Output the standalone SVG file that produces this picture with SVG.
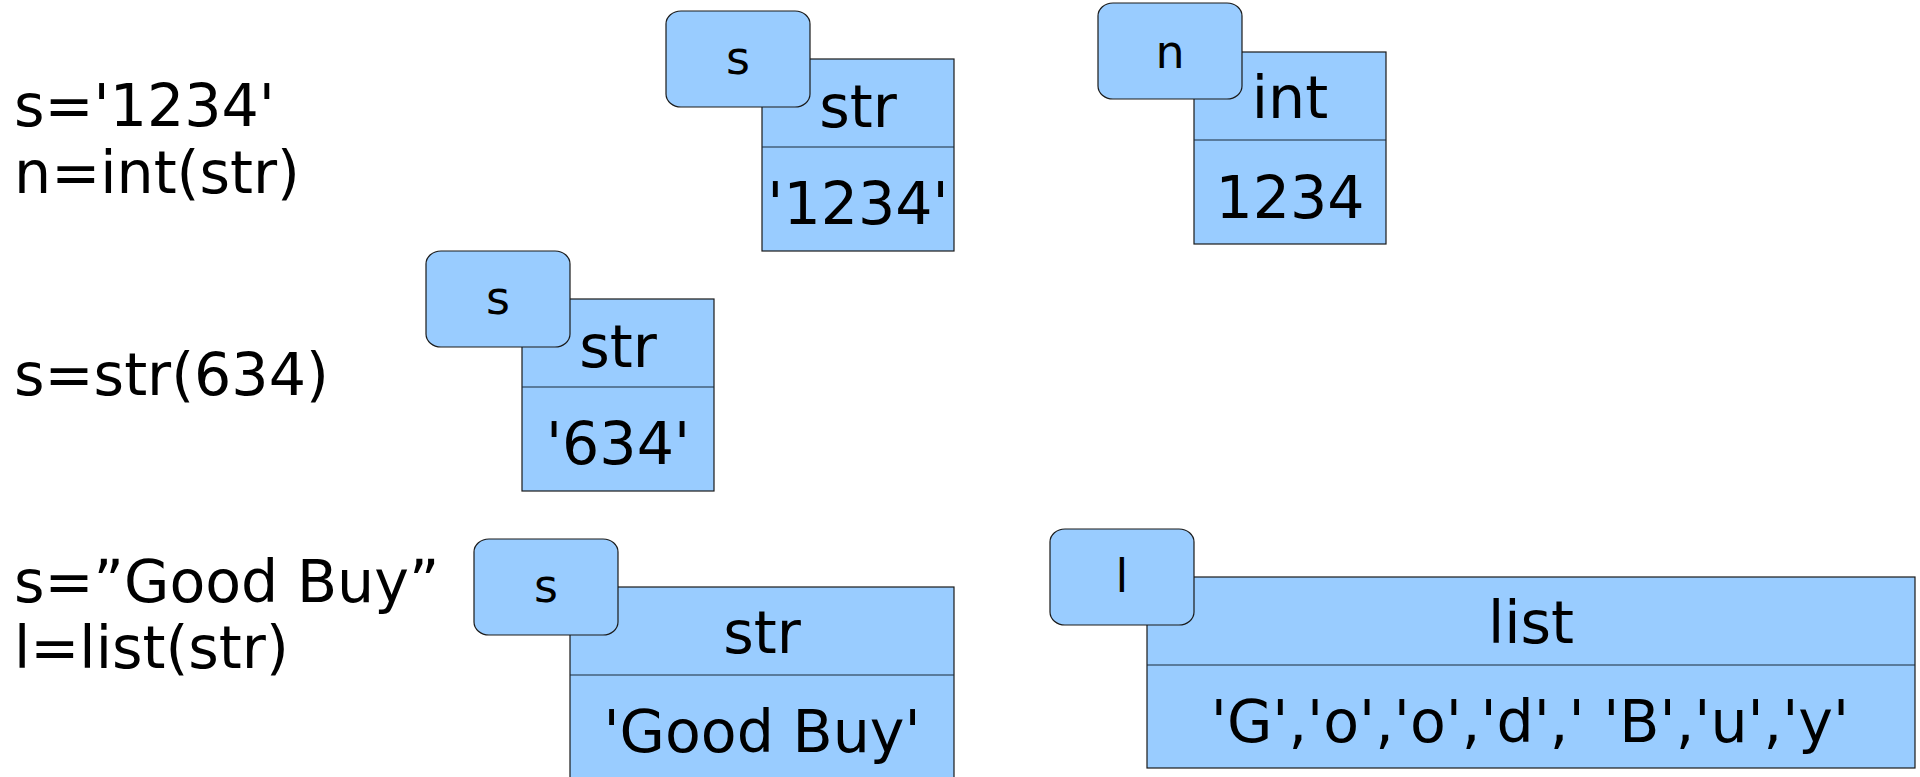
<svg xmlns="http://www.w3.org/2000/svg" width="1920" height="777" viewBox="0 0 1920 777">
  <style>
    .code { font-family: "DejaVu Sans", "Liberation Sans", sans-serif; font-size: 58.6px; fill: #000; }
    .box { fill: #99ccff; stroke: #1a1a1a; stroke-width: 1.2; }
    .div { stroke: #1a2a3a; stroke-width: 1.2; }
    .tag { fill: #99ccff; stroke: #1a1a1a; stroke-width: 1.2; }
    .lbl { font-family: "DejaVu Sans", "Liberation Sans", sans-serif; font-size: 46px; fill: #000; text-anchor: middle; }
    .val { font-family: "DejaVu Sans", "Liberation Sans", sans-serif; font-size: 58.6px; fill: #000; text-anchor: middle; }
  </style>
  <rect width="1920" height="777" fill="#ffffff"/>

  <!-- Python statements -->
  <g id="statements">
    <text class="code" x="14" y="126">s='1234'</text>
    <text class="code" x="14" y="193">n=int(str)</text>
    <text class="code" x="14" y="395">s=str(634)</text>
    <text class="code" x="14" y="602">s=”Good Buy”</text>
    <text class="code" x="14" y="668">l=list(str)</text>
  </g>

  <g id="connectors"/>

  <!-- s -> str '1234' -->
  <g id="obj-str-1234">
    <rect class="box" x="762" y="59" width="192" height="192"/>
    <line class="div" x1="762" y1="147" x2="954" y2="147"/>
    <text class="val" x="858" y="127">str</text>
    <text class="val" x="858" y="224">'1234'</text>
    <rect class="tag" x="666" y="11" width="144" height="96" rx="15" ry="13"/>
    <text class="lbl" x="738" y="74">s</text>
  </g>

  <!-- n -> int 1234 -->
  <g id="obj-int-1234">
    <rect class="box" x="1194" y="52" width="192" height="192"/>
    <line class="div" x1="1194" y1="140" x2="1386" y2="140"/>
    <text class="val" x="1290" y="118">int</text>
    <text class="val" x="1290" y="218">1234</text>
    <rect class="tag" x="1098" y="3" width="144" height="96" rx="15" ry="13"/>
    <text class="lbl" x="1170" y="68">n</text>
  </g>

  <!-- s -> str '634' -->
  <g id="obj-str-634">
    <rect class="box" x="522" y="299" width="192" height="192"/>
    <line class="div" x1="522" y1="387" x2="714" y2="387"/>
    <text class="val" x="618" y="367">str</text>
    <text class="val" x="618" y="464">'634'</text>
    <rect class="tag" x="426" y="251" width="144" height="96" rx="15" ry="13"/>
    <text class="lbl" x="498" y="314">s</text>
  </g>

  <!-- s -> str 'Good Buy' -->
  <g id="obj-str-goodbuy">
    <rect class="box" x="570" y="587" width="384" height="210"/>
    <line class="div" x1="570" y1="675" x2="954" y2="675"/>
    <text class="val" x="762" y="653">str</text>
    <text class="val" x="762" y="752">'Good Buy'</text>
    <rect class="tag" x="474" y="539" width="144" height="96" rx="15" ry="13"/>
    <text class="lbl" x="546" y="602">s</text>
  </g>

  <!-- l -> list of characters -->
  <g id="obj-list">
    <rect class="box" x="1147" y="577" width="768" height="191"/>
    <line class="div" x1="1147" y1="665" x2="1915" y2="665"/>
    <text class="val" x="1531" y="643">list</text>
    <text class="val" x="1530" y="742" xml:space="preserve">'G','o','o','d',' 'B','u','y'</text>
    <rect class="tag" x="1050" y="529" width="144" height="96" rx="15" ry="13"/>
    <text class="lbl" x="1122" y="592">l</text>
  </g>
</svg>
